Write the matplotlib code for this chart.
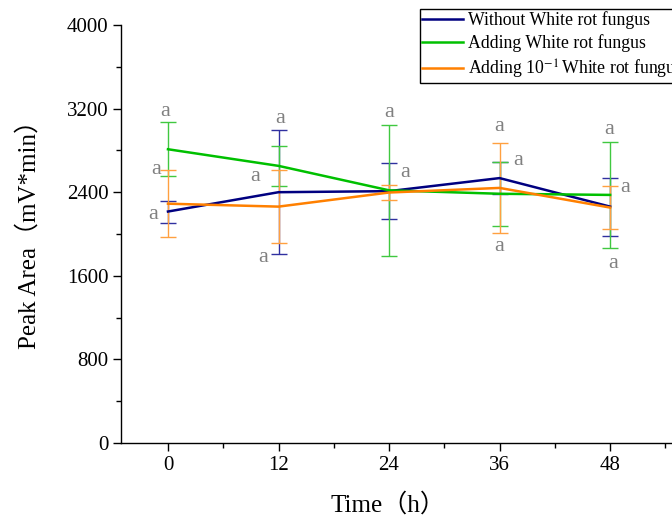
import matplotlib
matplotlib.use("Agg")
import matplotlib.pyplot as plt
from matplotlib.ticker import MultipleLocator

plt.rcParams['font.family'] = ['Liberation Serif', 'DejaVu Serif']
plt.rcParams['mathtext.fontset'] = 'stix'

# ---- data ----
time = [0, 12, 24, 36, 48]
series_names = ["Without White rot fungus",
                "Adding White rot fungus",
                "Adding 10$^{-1}\\,$White rot fungus"]
without = [2215, 2400, 2410, 2535, 2262]
without_err = [105, 593, 271, 156, 278]
adding = [2811, 2652, 2418, 2385, 2374]
adding_err = [258, 192, 625, 308, 510]
adding10 = [2290, 2262, 2397, 2441, 2253]
adding10_err = [320, 351, 73, 433, 207]

# significance letters (text, x, y in data units)
letter_text = ["a"] * 14
letter_x = [-0.33, -1.3, -1.6, 12.16, 9.45, 10.3, 24.0, 25.8, 36.0, 38.0, 36.0, 47.9, 49.6, 48.3]
letter_y = [3168, 2613, 2183, 3101, 2546, 1771, 3159, 2585, 3025, 2699, 1876, 2996, 2441, 1714]

yticks = [0, 800, 1600, 2400, 3200, 4000]
xticks = [0, 12, 24, 36, 48]

colors = ["#000080", "#00C000", "#FF8000"]
err_colors = ["#3030A0", "#40C840", "#FFA040"]

fig = plt.figure(figsize=(6.72, 5.19), dpi=100)
ax = fig.add_axes([121 / 672, 76 / 519, 0.8375, 418 / 519])

for vals, errs, c, ec, name in zip([without, adding, adding10],
                                   [without_err, adding_err, adding10_err],
                                   colors, err_colors, series_names):
    ax.errorbar(time, vals, yerr=errs, fmt='none', ecolor=ec, elinewidth=1.0,
                capsize=6, capthick=1.0, zorder=2)
for vals, c, name in zip([without, adding, adding10], colors, series_names):
    ax.plot(time, vals, color=c, lw=1.8, label=name, zorder=3)

for t, x, y in zip(letter_text, letter_x, letter_y):
    ax.text(x, y, t, color="#808080", fontsize=16, ha='center', va='center', zorder=4)

ax.set_xlim(-5.1, 56)
ax.set_ylim(0, 4000)
ax.set_xticks(xticks)
ax.set_yticks(yticks)
ax.xaxis.set_minor_locator(MultipleLocator(6))
ax.yaxis.set_minor_locator(MultipleLocator(400))
ax.tick_params(which='major', direction='out', length=6, width=1, labelsize=15, pad=3)
ax.tick_params(which='minor', direction='out', length=3.5, width=1)
for s in ['top', 'right']:
    ax.spines[s].set_visible(False)
for s in ['left', 'bottom']:
    ax.spines[s].set_linewidth(1)

lab_fam = ['Liberation Serif', 'Noto Sans CJK SC']
ax.set_xlabel("Time（h）", fontsize=18, family=lab_fam)
ax.set_ylabel("Peak Area（mV*min）", fontsize=18, family=lab_fam)
ax.xaxis.set_label_coords(0.475, -0.118)
ax.yaxis.set_label_coords(-0.142, 0.512)

leg = fig.legend(loc='upper left', bbox_to_anchor=(420 / 672, 1 - 9 / 519), fontsize=12.8,
                 frameon=True, fancybox=False, edgecolor='black', framealpha=1,
                 handlelength=2.3, handletextpad=0.3, borderpad=0.12, labelspacing=0.3,
                 borderaxespad=0)
leg.get_frame().set_linewidth(1.0)

fig.savefig("out.png", dpi=100)
